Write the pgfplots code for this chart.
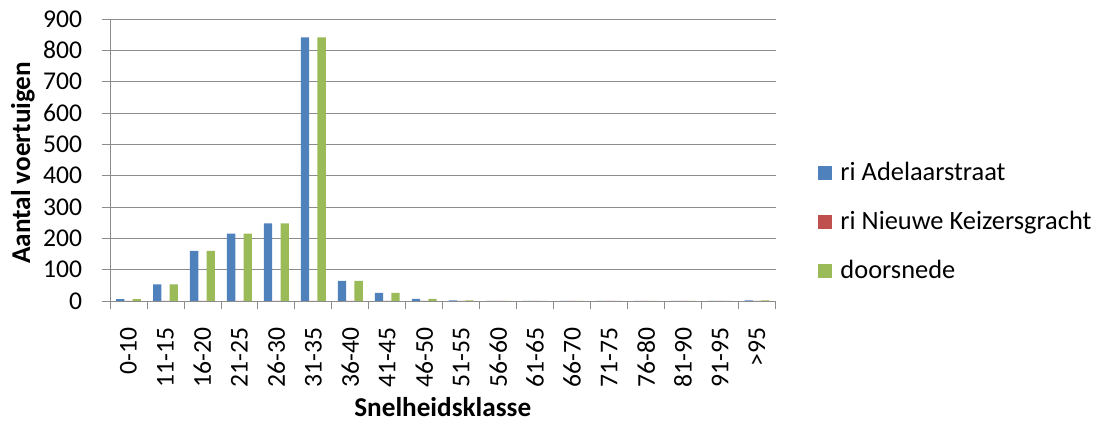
\documentclass[border=0pt]{standalone}
\usepackage{fontspec}
\setmainfont{Carlito}
\usepackage{pgfplots}
\usetikzlibrary{calc}
\pgfplotsset{compat=1.18}
\definecolor{cblue}{HTML}{4F81BD}
\definecolor{cred}{HTML}{C0504D}
\definecolor{cgreen}{HTML}{9BBB59}
\definecolor{cgrid}{HTML}{8C8C8C}
\begin{document}
\fontsize{12.8}{15}\selectfont
\begin{tikzpicture}
\begin{axis}[
  name=ax,
  scale only axis, width=332.75pt, height=141pt,
  ybar=0pt, bar width=4.15pt,
  xmin=-0.5, xmax=17.5, ymin=0, ymax=900,
  ytick={0,100,...,900},
  xtick={0,...,17},
  xticklabels={0-10,11-15,16-20,21-25,26-30,31-35,36-40,41-45,46-50,51-55,56-60,61-65,66-70,71-75,76-80,81-90,91-95,>95},
  xticklabel style={rotate=90, anchor=east, yshift=0pt, xshift=-5pt, font=\fontsize{12.8}{15}\selectfont},
  yticklabel style={font=\fontsize{12.8}{15}\selectfont, xshift=-5.5pt},
  major x tick style={draw=none},
  extra x ticks={-0.5,0.5,...,17.5},
  extra x tick labels={},
  extra x tick style={major tick length=4pt, major x tick style={draw=cgrid}, grid=none},
  tick align=outside, major tick length=4pt,
  tick style={draw=cgrid, thin},
  axis x line*=bottom, axis y line*=left,
  axis line style={draw=cgrid, thin, -},
  ymajorgrids, grid style={draw=cgrid, thin},
  /pgf/number format/assume math mode=true,
  ylabel={\fontsize{13.6}{16}\selectfont\textbf{Aantal voertuigen}},
  xlabel={\fontsize{13.6}{16}\selectfont\textbf{Snelheidsklasse}},
  ylabel style={at={(axis description cs:-0.131,0.49)}, anchor=center, rotate=0},
  xlabel style={at={(axis description cs:0.5,-0.376)}, anchor=center},
  legend style={at={(axis description cs:1.064,0.28)}, anchor=west, draw=none, fill=none,
    row sep=13.5pt, column sep=4pt, font=\fontsize{13.2}{15.5}\selectfont, inner sep=0pt,
    nodes={inner sep=0pt}},
  legend cell align=left,
  clip=false,
]
\addplot[fill=cblue, draw=none, legend image code/.code={\fill[cblue] (0pt,-3.5pt) rectangle (7pt,3.5pt);}]
  coordinates {(0,6) (1,53) (2,160) (3,215) (4,248) (5,841) (6,64) (7,26) (8,7) (9,2) (10,0) (11,0) (12,0) (13,0) (14,0) (15,0) (16,0) (17,2)};
\addplot[fill=cred, draw=none, legend image code/.code={\fill[cred] (0pt,-3.5pt) rectangle (7pt,3.5pt);}]
  coordinates {(0,0) (1,0) (2,0) (3,0) (4,0) (5,0) (6,0) (7,0) (8,0) (9,0) (10,0) (11,0) (12,0) (13,0) (14,0) (15,0) (16,0) (17,0)};
\addplot[fill=cgreen, draw=none, legend image code/.code={\fill[cgreen] (0pt,-3.5pt) rectangle (7pt,3.5pt);}]
  coordinates {(0,6) (1,53) (2,160) (3,215) (4,248) (5,841) (6,64) (7,26) (8,7) (9,2) (10,0) (11,0) (12,0) (13,0) (14,0) (15,0) (16,0) (17,2)};
\legend{ri Adelaarstraat, ri Nieuwe Keizersgracht, doorsnede}
\end{axis}
\path ($(ax.south west)+(-55pt,-62pt)$) rectangle ($(ax.north east)+(162.75pt,9.5pt)$);
\end{tikzpicture}
\end{document}
